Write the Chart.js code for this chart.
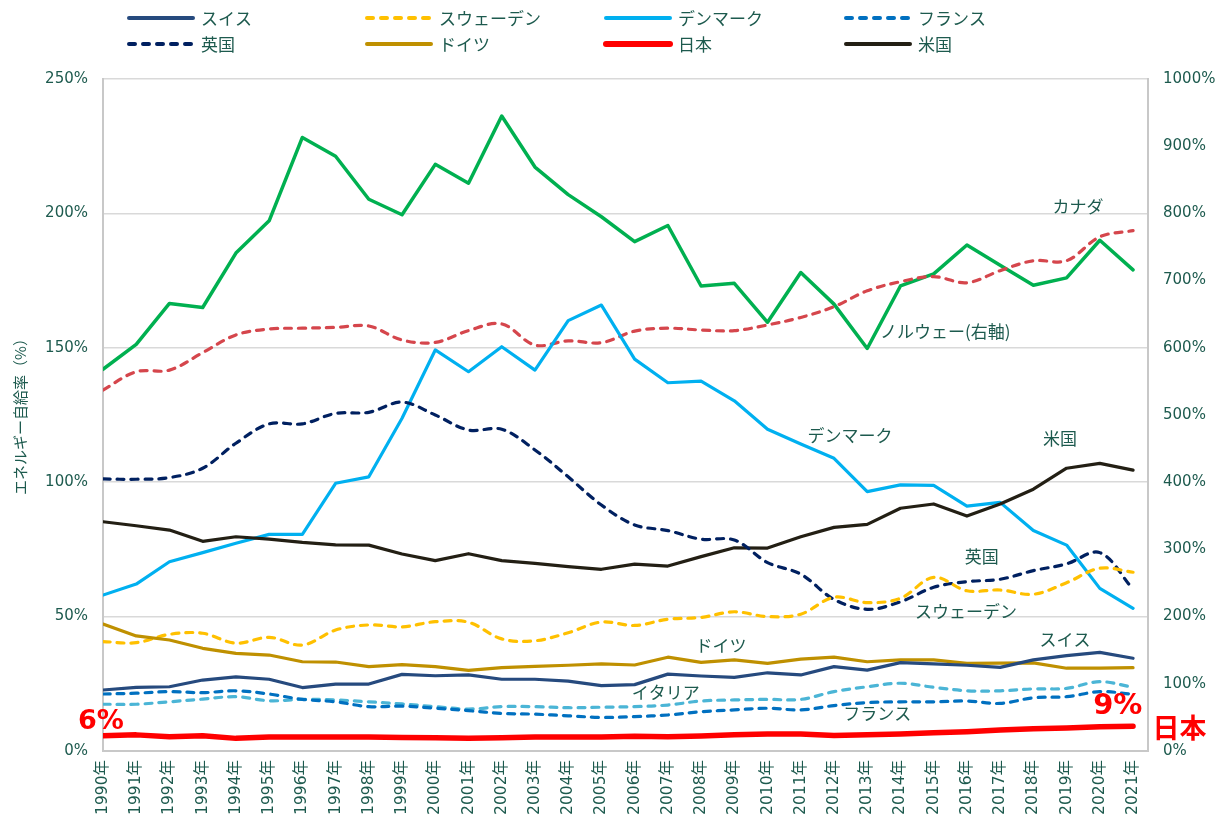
<!DOCTYPE html>
<html><head><meta charset="utf-8">
<script src="https://cdn.jsdelivr.net/npm/chart.js@4.4.1/dist/chart.umd.min.js"></script>
<style>html,body{margin:0;padding:0;background:#fff;}#wrap{width:1222px;height:820px;}</style>
</head><body><div id="wrap"><canvas id="c" width="1222" height="820"></canvas></div>
<script>
const years = [1990,1991,1992,1993,1994,1995,1996,1997,1998,1999,2000,2001,2002,2003,2004,2005,2006,2007,2008,2009,2010,2011,2012,2013,2014,2015,2016,2017,2018,2019,2020,2021];
const leftTicks = [0,50,100,150,200,250];
const rightTicks = [0,100,200,300,400,500,600,700,800,900,1000];

const japan   = [5.7,6.0,5.3,5.7,4.7,5.2,5.2,5.2,5.2,5.0,4.9,4.7,4.9,5.2,5.2,5.2,5.5,5.3,5.6,6.0,6.3,6.3,5.8,6.0,6.3,6.8,7.2,7.8,8.3,8.6,9.0,9.2];
const swiss   = [22.7,23.7,23.9,26.4,27.6,26.7,23.6,24.9,24.9,28.5,28.0,28.3,26.7,26.7,26.0,24.3,24.7,28.6,27.9,27.4,29.1,28.3,31.4,30.1,32.9,32.4,31.9,31.1,33.9,35.5,36.7,34.5];
const germany = [47.2,42.8,41.3,38.2,36.3,35.7,33.2,33.1,31.4,32.1,31.4,30.0,31.0,31.5,31.9,32.4,32.0,34.9,33.0,33.9,32.6,34.2,34.9,33.2,33.9,33.9,32.6,32.7,32.8,30.8,30.8,31.0];
const sweden  = [40.7,40.3,43.4,43.8,40.1,42.3,39.4,45.0,46.9,46.2,48.1,47.9,41.7,41.0,44.0,48.0,46.7,49.0,49.7,51.8,50.0,50.9,57.2,55.2,56.8,64.6,59.6,59.9,58.3,62.6,68.0,66.5];
const france  = [21.2,21.5,22.1,21.7,22.4,21.2,19.2,18.3,16.5,16.7,15.9,15.0,14.0,13.7,13.1,12.5,12.8,13.4,14.6,15.3,15.9,15.3,16.9,18.0,18.3,18.3,18.6,17.7,19.8,20.2,22.1,21.1];
const italy   = [17.4,17.4,18.3,19.3,20.2,18.7,19.2,19.0,18.3,17.5,16.5,15.6,16.5,16.5,16.1,16.3,16.5,17.1,18.6,19.0,19.2,19.2,22.1,23.9,25.2,23.7,22.4,22.4,23.1,23.3,25.8,23.7];
const uk      = [101.2,101.1,101.7,105.2,114.5,121.7,121.7,125.6,126.0,129.8,125.0,119.4,119.7,112.0,102.0,91.5,84.1,82.0,78.8,78.5,70.1,65.8,56.4,52.7,55.5,60.9,63.0,63.9,67.1,69.6,73.8,60.2];
const usa     = [85.3,83.8,82.2,78.0,79.7,78.8,77.6,76.7,76.6,73.3,70.8,73.4,70.8,69.8,68.6,67.6,69.5,68.8,72.3,75.6,75.5,79.7,83.2,84.3,90.3,91.9,87.4,91.9,97.4,105.2,107.0,104.5];
const denmark = [58.0,62.1,70.4,73.8,77.3,80.6,80.6,99.6,102.0,123.8,149.2,141.1,150.4,141.7,160.1,165.9,145.8,137.0,137.6,130.3,119.7,114.2,108.9,96.5,99.0,98.8,91.1,92.5,82.0,76.6,60.5,53.1];
const canada  = [134.3,141.1,141.7,148.2,154.8,157.0,157.3,157.6,158.1,152.9,152.0,156.4,158.9,151.0,152.6,151.9,156.2,157.3,156.6,156.4,158.5,161.3,165.3,171.2,174.6,176.5,174.2,178.7,182.4,182.4,191.3,193.6];
const norway  = [568,605,666,660,741,789,913,885,821,798,873,845,945,869,828,795,758,782,692,696,638,712,665,599,692,710,753,723,693,704,760,716];

const TXT = '#1d5a4e';
const JP = '"Noto Sans CJK JP","Noto Sans",sans-serif';

function ds(label, data, color, opts) {
  return Object.assign({label, data, borderColor: color, backgroundColor: color, borderWidth: 3.2,
    pointRadius: 0, pointHoverRadius: 0, fill: false, tension: 0, yAxisID: 'y',
    borderCapStyle: 'round', borderJoinStyle: 'round'}, opts || {});
}
const dashed = {borderDash: [7, 7], tension: 0.35, borderCapStyle: 'round'};

const datasets = [
  ds('日本', japan, '#ff0000', {borderWidth: 5.5}),
  ds('スイス', swiss, '#264a7e'),
  ds('ドイツ', germany, '#bf9000'),
  ds('スウェーデン', sweden, '#ffc000', dashed),
  ds('フランス', france, '#0070c0', dashed),
  ds('イタリア', italy, '#4bb5d6', dashed),
  ds('英国', uk, '#002060', dashed),
  ds('米国', usa, '#231f14'),
  ds('デンマーク', denmark, '#00b0f0'),
  ds('カナダ', canada, '#d5464c', dashed),
  ds('ノルウェー', norway, '#00b050', {yAxisID: 'y2', borderWidth: 3.5})
];

const legendItems = ['スイス','スウェーデン','デンマーク','フランス','英国','ドイツ','日本','米国'];

const annotations = [
  {text:'カナダ', x:2019.34, y:202.4},
  {text:'ノルウェー(右軸)', x:2015.35, y:155.9},
  {text:'デンマーク', x:2012.48, y:117.2},
  {text:'米国', x:2018.8, y:116.4},
  {text:'英国', x:2016.45, y:72.2},
  {text:'スウェーデン', x:2015.97, y:51.7},
  {text:'スイス', x:2018.95, y:41.3},
  {text:'ドイツ', x:2008.6, y:39.1},
  {text:'イタリア', x:2006.94, y:21.6},
  {text:'フランス', x:2013.3, y:13.8},
  {text:'6%', x:1989.94, y:10.8, red:true, size:27},
  {text:'9%', x:2020.54, y:16.4, red:true, size:29},
  {text:'日本', x:2022.4, y:8.6, red:true, size:27}
];

const overlay = {
  id: 'overlay',
  afterDraw(chart) {
    const ctx = chart.ctx;
    const xs = chart.scales.x, ys = chart.scales.y;
    ctx.save();
    ctx.textAlign = 'center'; ctx.textBaseline = 'middle';
    annotations.forEach(a => {
      ctx.fillStyle = a.red ? '#ff0000' : TXT;
      ctx.font = a.red ? `bold ${a.size}px "DejaVu Sans",${JP}` : `17px ${JP}`;
      if (a.red && a.text === '日本') ctx.font = `bold ${a.size}px ${JP}`;
      ctx.fillText(a.text, xs.getPixelForValue(a.x), ys.getPixelForValue(a.y));
    });
    const cols = [127, 365, 604, 844], rows = [18, 44];
    legendItems.forEach((name, i) => {
      const d = chart.data.datasets.find(s => s.label === name);
      const x0 = cols[i % 4], y0 = rows[Math.floor(i / 4)];
      ctx.strokeStyle = d.borderColor;
      ctx.lineWidth = name === '日本' ? 6 : 4;
      ctx.lineCap = 'round';
      ctx.setLineDash(d.borderDash ? [6, 8] : []);
      ctx.beginPath(); ctx.moveTo(x0 + 2, y0); ctx.lineTo(x0 + 66, y0); ctx.stroke();
      ctx.setLineDash([]);
      ctx.fillStyle = TXT; ctx.font = `17px ${JP}`;
      ctx.textAlign = 'left';
      ctx.fillText(name, x0 + 74, y0 + 1);
    });
    ctx.translate(20, 413); ctx.rotate(-Math.PI / 2);
    ctx.textAlign = 'center'; ctx.fillStyle = TXT; ctx.font = `15px ${JP}`;
    ctx.fillText('エネルギー自給率（%）', 0, 0);
    ctx.restore();
  }
};

new Chart(document.getElementById('c'), {
  type: 'line',
  data: {labels: years, datasets},
  plugins: [overlay],
  options: {
    responsive: false, animation: false,
    layout: {padding: {top: 79, left: 0, right: 0, bottom: 0}},
    plugins: {legend: {display: false}, tooltip: {enabled: false}},
    scales: {
      x: {
        type: 'linear', min: 1990, max: 2021.45,
        afterBuildTicks: s => { s.ticks = years.map(v => ({value: v})); },
        afterFit: s => { s.height = 69; },
        grid: {display: false, drawTicks: false},
        border: {color: '#c8c8c8', width: 2},
        ticks: {autoSkip: false, minRotation: 90, maxRotation: 90, padding: 9, color: TXT,
          font: {family: '"DejaVu Sans","Noto Sans CJK JP"', size: 15.5}, callback: v => v + '年'}
      },
      y: {
        position: 'left', min: 0, max: 250,
        afterBuildTicks: s => { s.ticks = leftTicks.map(v => ({value: v})); },
        afterFit: s => { s.width = 103; },
        grid: {color: '#d9d9d9', lineWidth: 1.5, drawTicks: false},
        border: {color: '#c8c8c8', width: 2},
        ticks: {padding: 15, color: TXT, font: {family: '"DejaVu Sans"', size: 15}, callback: v => v + '%'}
      },
      y2: {
        position: 'right', min: 0, max: 1000,
        afterBuildTicks: s => { s.ticks = rightTicks.map(v => ({value: v})); },
        afterFit: s => { s.width = 74; },
        grid: {display: false, drawTicks: false},
        border: {color: '#c8c8c8', width: 2},
        ticks: {padding: 15, color: TXT, font: {family: '"DejaVu Sans"', size: 15}, callback: v => v + '%'}
      }
    }
  }
});
</script></body></html>
